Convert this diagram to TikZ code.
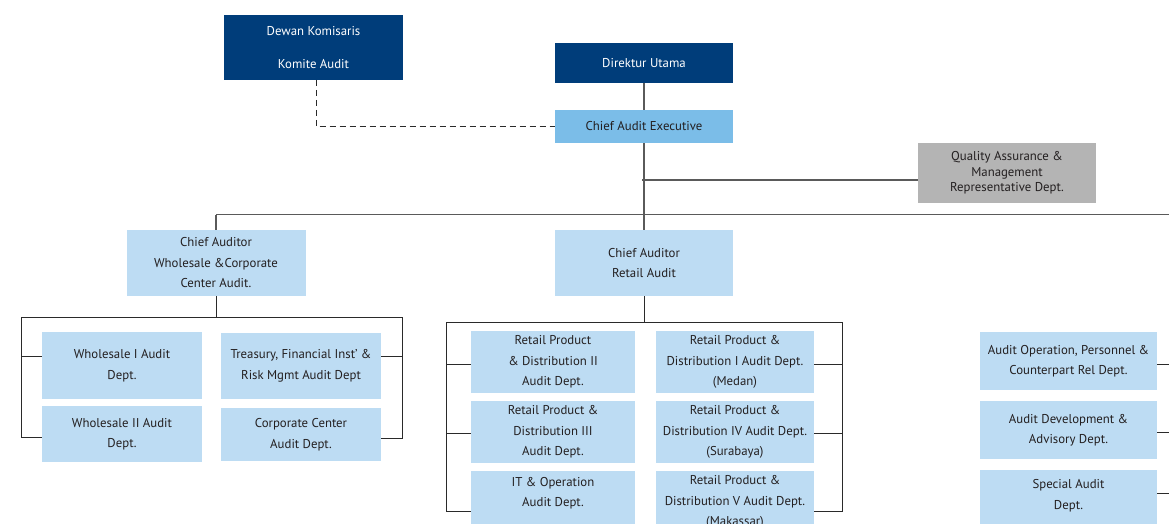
\documentclass[tikz,border=0pt]{standalone}
\usepackage{fontspec}
\setmainfont{PT Sans}
\definecolor{navy}{HTML}{003D7A}
\definecolor{caeblue}{HTML}{7BBDE8}
\definecolor{paleblue}{HTML}{BDDCF3}
\definecolor{qagray}{HTML}{B4B4B4}
\definecolor{txt}{HTML}{231F20}
\definecolor{trunk}{HTML}{5A5A5A}
\definecolor{branch}{HTML}{2A2A2A}
\begin{document}
\begin{tikzpicture}[x=1pt,y=-1pt,
  box/.style={rectangle, inner sep=0pt, align=center, text=txt,
    font=\fontsize{12.8}{20.5}\selectfont},
  darkbox/.style={box, fill=navy, text=white},
  caebox/.style={box, fill=caeblue},
  dept/.style={box, fill=paleblue},
  qabox/.style={box, fill=qagray, font=\fontsize{12.8}{15.5}\selectfont},
  trunkline/.style={draw=trunk, line width=1.4pt},
  branchline/.style={draw=branch, line width=1pt},
]
\useasboundingbox (0,0) rectangle (1169,524);
\clip (0,0) rectangle (1169,524);

% top level
\node[darkbox, minimum width=179pt, minimum height=65pt,
  font=\fontsize{12.8}{33}\selectfont] (dk) at (313.5,47.5)
  {Dewan Komisaris\\Komite Audit};
\node[darkbox, minimum width=178pt, minimum height=40pt] (du) at (644,63) {Direktur Utama};
\node[caebox, minimum width=178pt, minimum height=33pt] (cae) at (644,126.5) {Chief Audit Executive};
\node[qabox, minimum width=178pt, minimum height=60pt] (qa) at (1007,173)
  {Quality Assurance \&\\Management\\Representative Dept.};

% chief auditors
\node[dept, minimum width=179pt, minimum height=66pt] (caw) at (216,263)
  {Chief Auditor\\Wholesale \&Corporate\\Center Audit.};
\node[dept, minimum width=178pt, minimum height=66pt] (car) at (644,263)
  {Chief Auditor\\Retail Audit};

% wholesale departments
\node[dept, minimum width=160pt, minimum height=67pt] (w1) at (122,365.5) {Wholesale I Audit\\Dept.};
\node[dept, minimum width=160pt, minimum height=56pt] (w2) at (122,434) {Wholesale II Audit\\Dept.};
\node[dept, minimum width=160pt, minimum height=66pt] (tr) at (301,366)
  {Treasury, Financial Inst’ \&\\Risk Mgmt Audit Dept};
\node[dept, minimum width=160pt, minimum height=53pt] (cc) at (301,434.5) {Corporate Center\\Audit Dept.};

% retail departments
\node[dept, minimum width=164pt, minimum height=62pt] (r2) at (553,362)
  {Retail Product\\\& Distribution II\\Audit Dept.};
\node[dept, minimum width=158pt, minimum height=62pt] (r1) at (735,362)
  {Retail Product \&\\Distribution I Audit Dept.\\(Medan)};
\node[dept, minimum width=164pt, minimum height=62pt] (r3) at (553,432)
  {Retail Product \&\\Distribution III\\Audit Dept.};
\node[dept, minimum width=158pt, minimum height=62pt] (r4) at (735,432)
  {Retail Product \&\\Distribution IV Audit Dept.\\(Surabaya)};
\node[dept, minimum width=164pt, minimum height=62pt] (it) at (553,502)
  {IT \& Operation\\Audit Dept.\\\mbox{}};
\node[dept, minimum width=158pt, minimum height=62pt] (r5) at (735,502)
  {Retail Product \&\\Distribution V Audit Dept.\\(Makassar)};

% departments under the chief audit executive
\node[dept, minimum width=177pt, minimum height=58pt] (ao) at (1068.5,361)
  {Audit Operation, Personnel \&\\Counterpart Rel Dept.};
\node[dept, minimum width=177pt, minimum height=58pt] (ad) at (1068.5,430)
  {Audit Development \&\\Advisory Dept.};
\node[dept, minimum width=177pt, minimum height=69pt] (sa) at (1068.5,504.5)
  {Special Audit\\Dept.\\\mbox{}};

% main trunk
\draw[trunkline] (du.south) -- (cae.north);
\draw[trunkline] (cae.south) -- (car.north);
\coordinate (qj) at (642,180);
\draw[trunkline] (qj) -- (qj -| qa.west);
\coordinate (busl) at (216,214.5);
\coordinate (busr) at (1169,214.5);
\draw[trunkline] (busl) -- (busr);
\draw[trunkline] (busl) -- (caw.north);

% dotted reporting line
\draw[branchline, dashed, dash pattern=on 6pt off 4pt, line width=0.9pt]
  (316,80) |- (cae.west);

% wholesale bracket
\coordinate (wl) at (21.5,317);
\coordinate (wr) at (402,317);
\coordinate (wtop) at (0,356);
\coordinate (wbotl) at (0,437);
\coordinate (wbotr) at (0,438);
\draw[branchline] (caw.south) -- (caw.south |- wl);
\draw[branchline] (w2.west |- wbotl) -| (wl) -- (wr) |- (cc.east |- wbotr);
\draw[branchline] (wl |- wtop) -- (w1.west |- wtop);
\draw[branchline] (wr |- wtop) -- (tr.east |- wtop);

% retail bracket
\coordinate (rl) at (446,322);
\coordinate (rr) at (842,322);
\coordinate (ra) at (0,364);
\coordinate (rb) at (0,433);
\coordinate (rc) at (0,511.5);
\draw[branchline] (car.south) -- (car.south |- rl);
\draw[branchline] (it.west |- rc) -| (rl) -- (rr) |- (r5.east |- rc);
\draw[branchline] (rl |- ra) -- (r2.west |- ra);
\draw[branchline] (rl |- rb) -- (r3.west |- rb);
\draw[branchline] (rr |- ra) -- (r1.east |- ra);
\draw[branchline] (rr |- rb) -- (r4.east |- rb);

% stubs of the right-hand column
\coordinate (ea) at (1169,364);
\coordinate (eb) at (1169,432);
\coordinate (ec) at (1169,493);
\draw[branchline] (ao.east |- ea) -- (ea);
\draw[branchline] (ad.east |- eb) -- (eb);
\draw[branchline] (sa.east |- ec) -- (ec);
\end{tikzpicture}
\end{document}
